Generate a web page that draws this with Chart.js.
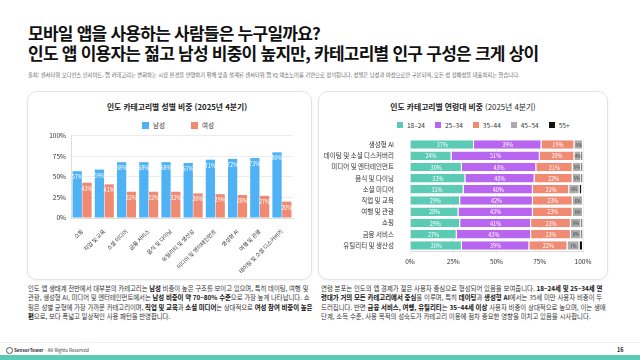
<!DOCTYPE html>
<html lang="ko">
<head>
<meta charset="utf-8">
<script src="https://cdn.jsdelivr.net/npm/chart.js@4.4.1/dist/chart.umd.min.js"></script>
<style>
body{margin:0;width:640px;height:360px;overflow:hidden;background:#fff;font-family:"Noto Sans CJK KR","Noto Sans",sans-serif;color:#222;position:relative}
.abs{position:absolute}
.title{left:28px;font-weight:700;font-size:17px;letter-spacing:-0.75px;color:#111;white-space:nowrap;line-height:20px}
.src{left:28px;top:71px;font-size:5.3px;color:#666;white-space:nowrap}
.card{border:1px solid #e4e4e4;border-radius:10px;box-shadow:0 1px 3px rgba(0,0,0,0.06);background:#fff}
.ctitle{top:9px;text-align:center;font-size:7.8px;color:#222;white-space:nowrap}
.legend{display:flex;align-items:center;font-size:6.5px;color:#333;white-space:nowrap}
.legend span.box{display:inline-block;margin-right:4px}
.para{font-size:6.4px;line-height:9.4px;color:#333;word-break:break-all}
.para b{color:#111}
</style>
</head>
<body>
<div class="abs title" style="top:23px">모바일 앱을 사용하는 사람들은 누구일까요?</div>
<div class="abs title" style="top:43px">인도 앱 이용자는 젊고 남성 비중이 높지만, 카테고리별 인구 구성은 크게 상이</div>
<div class="abs src">출처: 센서타워 오디언스 인사이트. 앱 카테고리는 변화하는 시장 환경을 반영하기 위해 맞춤 설계된 센서타워 앱 IQ 택소노미를 기반으로 정의됩니다. 성별은 남성과 여성으로만 구분되며, 모든 성 정체성을 대표하지는 않습니다.</div>

<div class="abs card" style="left:27px;top:91px;width:283px;height:187px">
  <div class="abs ctitle" style="left:0;width:298px;font-weight:700">인도 카테고리별 성별 비중 (2025년 4분기)</div>
  <div class="abs legend" id="legend1" style="left:114px;top:28px"></div>
  <div class="abs" style="left:0;top:35px;width:283px;height:152px"><canvas id="genderChart"></canvas></div>
</div>

<div class="abs card" style="left:318px;top:91px;width:288px;height:187px">
  <div class="abs ctitle" style="left:0;width:288px"><b>인도 카테고리별 연령대 비중</b> (2025년 4분기)</div>
  <div class="abs legend" id="legend2" style="left:78px;top:28px"></div>
  <div class="abs" style="left:0;top:35px;width:288px;height:152px"><canvas id="ageChart"></canvas></div>
</div>

<div class="abs para" style="left:28px;top:284px;width:286px;letter-spacing:-0.05px">인도 앱 생태계 전반에서 대부분의 카테고리는 <b>남성</b> 비중이 높은 구조를 보이고 있으며, 특히 데이팅, 여행 및 관광, 생성형 AI, 미디어 및 엔터테인먼트에서는 <b>남성 비중이 약 70~80% 수준</b>으로 가장 높게 나타납니다. 쇼핑은 성별 균형에 가장 가까운 카테고리이며, <b>직업 및 교육</b>과 <b>소셜 미디어</b>는 상대적으로 <b>여성 참여 비중이 높은 편</b>으로, 보다 폭넓고 일상적인 사용 패턴을 반영합니다.</div>
<div class="abs para" style="left:321px;top:284px;width:287px">연령 분포는 인도의 앱 경제가 젊은 사용자 중심으로 형성되어 있음을 보여줍니다. <b>18–24세 및 25–34세 연령대가 거의 모든 카테고리에서 중심</b>을 이루며, 특히 <b>데이팅</b>과 <b>생성형 AI</b>에서는 35세 미만 사용자 비중이 두드러집니다. 반면 <b>금융 서비스, 여행, 유틸리티</b>는 <b>35–44세 이상</b> 사용자 비중이 상대적으로 높으며, 이는 생애 단계, 소득 수준, 사용 목적의 성숙도가 카테고리 이용에 점차 중요한 영향을 미치고 있음을 시사합니다.</div>

<div class="abs" style="left:0;top:342px;width:640px;height:1px;background:#eeeeee"></div>
<div class="abs" style="left:6px;top:347px;width:5px;height:5px;border:1px solid #555;border-radius:50%"></div>
<div class="abs" style="left:14px;top:347px;font-size:4.6px;color:#333;white-space:nowrap"><b>SensorTower</b> - All Rights Reserved</div>
<div class="abs" style="left:617px;top:346px;font-size:5.5px;font-weight:700;color:#222">16</div>
<div class="abs" style="left:0;top:355px;width:640px;height:5px;background:#5ccbb6"></div>

<script>
// Chart 1 - gender
var genderCats = ['쇼핑', '직업 및 교육', '소셜 미디어', '금융 서비스', '음식 및 다이닝', '유틸리티 및 생산성', '미디어 및 엔터테인먼트', '생성형 AI', '여행 및 관광', '데이팅 및 소셜 디스커버리'];
var male = [57, 59, 68, 68, 68, 67, 71, 72, 73, 80];
var female = [43, 41, 32, 32, 32, 30, 29, 28, 27, 20];
var genderNames = ['남성', '여성'];
var genderTicks = [0, 25, 50, 75, 100];

// Chart 2 - age
var ageCats = ['생성형 AI', '데이팅 및 소셜 디스커버리', '미디어 및 엔터테인먼트', '음식 및 다이닝', '소셜 미디어', '직업 및 교육', '여행 및 관광', '쇼핑', '금융 서비스', '유틸리티 및 생산성'];
var age1824 = [37, 24, 30, 32, 31, 29, 28, 29, 27, 30];
var age2534 = [39, 51, 43, 40, 40, 42, 43, 41, 43, 39];
var age3544 = [19, 20, 21, 22, 21, 23, 23, 23, 23, 22];
var age4554 = [5, 4, 5, 5, 6, 6, 6, 6, 6, 7];
var age55 = [0.3, 1, 1, 1, 1.5, 0.5, 0.5, 1, 1, 2];
var ageNames = ['18–24', '25–34', '35–44', '45–54', '55+'];

var blue = '#4fb2f5', salmon = '#f08a72', teal = '#5ccbb6', purple = '#b866f0', grey = '#ababab', black = '#111111';
var font = '"Noto Sans CJK KR", "Noto Sans", sans-serif';

// html legends
function makeLegend(id, names, colors, size, gap) {
  var el = document.getElementById(id);
  var html = '';
  for (var i = 0; i < names.length; i++) {
    html += '<span style="display:inline-flex;align-items:center;margin-right:' + gap + 'px">' +
      '<span class="box" style="width:' + size + 'px;height:' + size + 'px;background:' + colors[i] + '"></span>' + names[i] + '</span>';
  }
  el.innerHTML = html;
}
makeLegend('legend1', genderNames, [blue, salmon], 7, 26);
makeLegend('legend2', ageNames, [teal, purple, salmon, grey, black], 6, 10);

// value labels drawn on the bars
var barLabels = {
  id: 'barLabels',
  afterDatasetsDraw: function(chart) {
    var ctx = chart.ctx;
    ctx.save();
    ctx.textAlign = 'center';
    ctx.textBaseline = 'middle';
    chart.data.datasets.forEach(function(ds, i) {
      if (ds.noLabel) return;
      var meta = chart.getDatasetMeta(i);
      meta.data.forEach(function(bar, j) {
        var v = Math.round(ds.data[j]) + '%';
        ctx.fillStyle = ds.labelColor || '#ffffff';
        if (chart.options.indexAxis === 'y') {
          ctx.font = (ds.labelSize || 5.5) + 'px ' + font;
          ctx.fillText(v, (bar.x + bar.base) / 2, bar.y + 0.5);
        } else {
          ctx.font = '5.5px ' + font;
          ctx.fillText(v, bar.x, bar.y + 6);
        }
      });
    });
    ctx.restore();
  }
};

var ctx = document.getElementById('genderChart');
var chart1 = new Chart(ctx, {
  type: 'bar',
  data: {
    labels: genderCats,
    datasets: [
      { label: genderNames[0], data: male, backgroundColor: blue },
      { label: genderNames[1], data: female, backgroundColor: salmon }
    ]
  },
  options: {
    responsive: true,
    maintainAspectRatio: false,
    animation: false,
    layout: { padding: { top: 7, right: 18, bottom: 3, left: 0 } },
    datasets: { bar: { categoryPercentage: 0.88, barPercentage: 0.95 } },
    plugins: { legend: { display: false }, tooltip: { enabled: false } },
    scales: {
      y: {
        min: 0, max: 100,
        afterFit: function(s) { s.width = 43; },
        afterBuildTicks: function(s) { s.ticks = genderTicks.map(function(v) { return { value: v }; }); },
        ticks: { callback: function(v) { return v + '%'; }, color: '#333', font: { family: font, size: 6.5 }, padding: 5 },
        grid: { color: '#ececec', drawTicks: false },
        border: { color: '#dddddd' }
      },
      x: {
        afterFit: function(s) { s.height = 58; },
        ticks: { minRotation: 45, maxRotation: 45, autoSkip: false, color: '#333', font: { family: font, size: 5.5 }, padding: 2 },
        grid: { display: false },
        border: { color: '#dddddd' }
      }
    }
  },
  plugins: [barLabels]
});

var ctx2 = document.getElementById('ageChart');
var chart2 = new Chart(ctx2, {
  type: 'bar',
  data: {
    labels: ageCats,
    datasets: [
      { label: ageNames[0], data: age1824, backgroundColor: teal },
      { label: ageNames[1], data: age2534, backgroundColor: purple },
      { label: ageNames[2], data: age3544, backgroundColor: salmon },
      { label: ageNames[3], data: age4554, backgroundColor: grey, labelColor: '#444', labelSize: 4.3 },
      { label: ageNames[4], data: age55, backgroundColor: black, noLabel: true }
    ]
  },
  options: {
    indexAxis: 'y',
    responsive: true,
    maintainAspectRatio: false,
    animation: false,
    layout: { padding: { top: 7, right: 24, bottom: 4, left: 0 } },
    datasets: { bar: { categoryPercentage: 1, barPercentage: 0.76, borderColor: '#ffffff', borderWidth: { right: 1 }, borderSkipped: false } },
    plugins: { legend: { display: false }, tooltip: { enabled: false } },
    scales: {
      x: {
        stacked: true, min: 0, max: 100,
        afterFit: function(s) { s.height = 24; },
        ticks: { stepSize: 25, callback: function(v) { return v + '%'; }, color: '#333', font: { family: font, size: 6.5 }, padding: 4 },
        grid: { color: '#eeeeee', drawTicks: true, tickLength: 3 },
        border: { color: '#dddddd' }
      },
      y: {
        stacked: true,
        afterFit: function(s) { s.width = 91; },
        ticks: { autoSkip: false, color: '#333', font: { family: font, size: 6.5 }, padding: 8 },
        grid: { display: false },
        border: { display: false }
      }
    }
  },
  plugins: [barLabels]
});
</script>
</body>
</html>
